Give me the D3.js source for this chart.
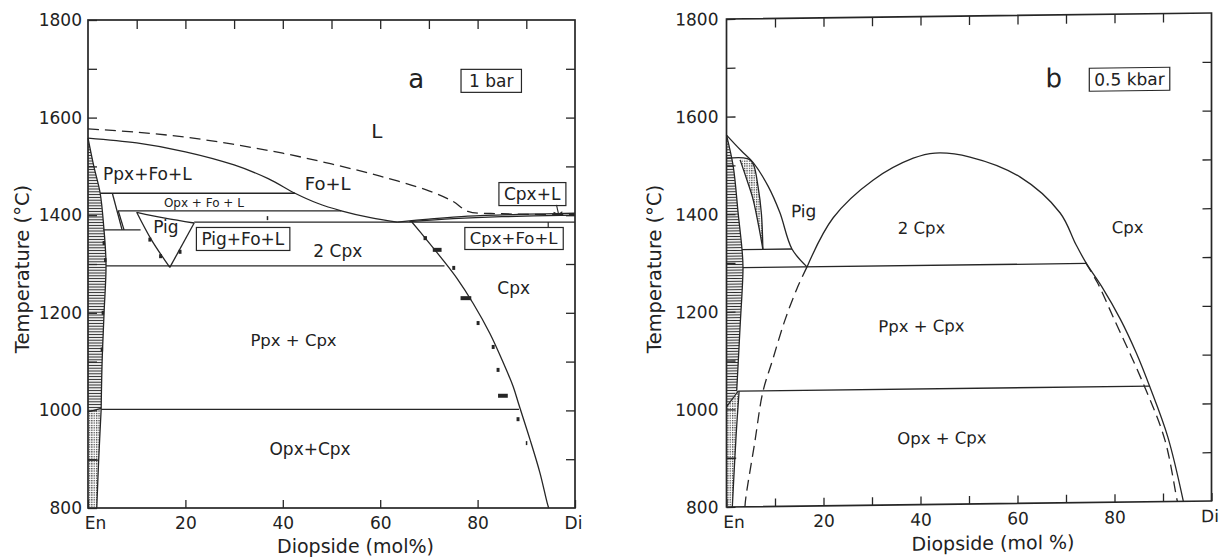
<!DOCTYPE html>
<html>
<head>
<meta charset="utf-8">
<script src="https://cdn.jsdelivr.net/npm/d3@7"></script>
<style>
  body { margin: 0; background: #fff; }
  svg { display: block; }
  text { font-family: "DejaVu Sans", sans-serif; fill: #222; }
</style>
</head>
<body>
<div id="chart"></div>
<script>
// ---- ticks ----
const xTop = d3.range(10, 100, 10);
const yLeft = d3.range(800, 1801, 100);
const yRight = d3.range(900, 1800, 100);
const xBottomA = [0, 20, 40, 60, 80, 100];
const xBottomB = d3.range(0, 101, 10);

// ---- panel a (1 bar), [mol% Di, T °C] ----
const liquidusA = [[0,1558],[10,1548],[20,1530],[30,1503],[37,1475],[42.5,1445],[47,1425],[52,1409],[58,1395],[63.5,1386]];
const cpxLiquidusA = [[63.5,1386],[70,1392],[78,1398],[90,1402],[100,1404]];
const cpxSolidusA = [[66,1387],[75,1393],[85,1397],[100,1400]];
const metastableA = [[0,1577],[10,1570],[20,1560],[30,1545],[40,1527],[50,1505],[60,1480],[70,1450],[75,1428],[78,1408],[85,1403],[100,1401]];
const solvusA = [[66.5,1386],[69.5,1350],[72.5,1313],[75.8,1270],[79.1,1219],[82.5,1158],[85.3,1097],[87.3,1049],[88.5,1011],[90.8,939],[92.8,872],[94.3,810],[94.6,800]];
const ppxA = [[0,1558],[1.2,1500],[2.5,1445],[3.2,1380],[3.7,1300],[3.3,1200],[2.9,1100],[2.7,1002]];
const opxA = [[2.7,1002],[2.2,900],[1.8,800]];
const pigLeftA = [[10,1406],[13,1350],[16.8,1293]];
const pigRightA = [[16.8,1293],[21.8,1384]];
const pigTopA = [[10,1406],[15.8,1394],[21.8,1384]];
const tieLinesA = [
  [[2.5,1445],[42.5,1445]],
  [[6.2,1409],[52,1409]],
  [[21.8,1386],[100,1386]],
  [[3.1,1370],[10.8,1370]],
  [[3.7,1296],[73.2,1296]],
  [[2.7,1002],[88.5,1002]],
  [[5.0,1445],[7.0,1370]],
  [[6.2,1409],[7.4,1370]],
  [[0,997],[2.7,1004]],
  [[0,898],[2.2,898]]
];
// experimental brackets [Di min, Di max, T]
const bracketsA = [[3.0,3.5,1343],[3.3,3.8,1308],[2.8,3.3,1200],[2.6,3.1,1125],
  [12.4,13.0,1350],[14.6,15.2,1316],[18.6,19.2,1325],[36.7,37.0,1394],
  [68.9,69.6,1353],[70.8,72.6,1329],[74.8,75.4,1292],[76.5,78.7,1230],[79.8,80.4,1179],
  [82.9,83.5,1130],[83.9,84.5,1083],[84.2,86.2,1030],[88.0,88.6,982],[89.9,90.2,933]];

// ---- panel b (0.5 kbar) ----
const ppxB = [[0,1562],[1.4,1497],[2.4,1402],[3.2,1327],[3.4,1290],[2.8,1169],[2.1,1037]];
const opxB = [[2.6,1037],[2.0,950],[1.2,800]];
const pigOuterB = [[0,1562],[3,1530],[5.5,1505],[8.6,1456],[11,1402],[13.5,1327],[16.6,1290]];
const pigDomeB = [[0.1,1515],[3.5,1515],[4.8,1511],[5.6,1500],[6.5,1456],[7.2,1400],[7.5,1327]];
const pigInnerB = [[2.8,1511],[4.2,1470],[5.5,1429],[6.9,1361],[7.5,1327]];
const cpxDomeB = [[16.6,1290],[22,1390],[30.2,1466],[38.5,1510],[43,1520],[50.2,1511],[60.5,1469],[68.8,1394],[72,1330],[74.2,1290],[77.5,1240],[81.2,1175],[84.5,1105],[87.3,1035],[91,932],[94.2,800]];
const dashedLeftB = [[16.6,1290],[14.5,1245],[12,1180],[9.5,1100],[7.5,1035],[5.8,930],[4,820],[3.8,800]];
const dashedRightB = [[74,1292],[76.5,1250],[79.7,1180],[85.9,1043],[90.4,926],[92.9,803],[93,800]];
const tieLinesB = [
  [[3.2,1327],[13.5,1327]],
  [[3.4,1290],[74.2,1290]],
  [[2.4,1037],[87.3,1037]],
  [[0,1005],[2.4,1037]],
  [[0,900],[2.0,900]]
];

const W = 1221, H = 558, ink = "#262626";
const svg = d3.select("#chart").append("svg").attr("width", W).attr("height", H);

const defs = svg.append("defs");
const hatch = defs.append("pattern").attr("id", "hatch")
  .attr("patternUnits", "userSpaceOnUse").attr("width", 6).attr("height", 2.8);
hatch.append("line").attr("x1", 0).attr("x2", 6).attr("y1", 1.4).attr("y2", 1.4)
  .attr("stroke", "#2a2a2a").attr("stroke-width", 1.1);
const dots = defs.append("pattern").attr("id", "dots")
  .attr("patternUnits", "userSpaceOnUse").attr("width", 2.4).attr("height", 2.4);
dots.append("rect").attr("width", 1.3).attr("height", 1.3).attr("fill", "#444");

const fmtX = d => d === 0 ? "En" : d === 100 ? "Di" : d;

function drawPanel(g, x, y, o) {
  const smooth = d3.line().x(d => x(d[0])).y(d => y(d[1])).curve(d3.curveCatmullRom.alpha(0.5));
  const straight = d3.line().x(d => x(d[0])).y(d => y(d[1]));

  // axes (inward ticks)
  g.append("g").attr("transform", `translate(${x(0)},0)`)
    .call(d3.axisLeft(y).tickValues(yLeft).tickSize(-9).tickPadding(o.yPad)
      .tickFormat(d => d % 200 === 0 ? d : ""))
    .call(a => a.select(".domain").remove())
    .call(a => a.selectAll("text").style("font-size", "17px").attr("fill", ink));
  g.append("g").attr("transform", `translate(${x(100)},0)`)
    .call(d3.axisRight(y).tickValues(yRight).tickSize(-9).tickFormat(""))
    .call(a => a.select(".domain").remove());
  g.append("g").attr("transform", `translate(0,${y(1800)})`)
    .call(d3.axisTop(x).tickValues(xTop).tickSize(-9).tickFormat(""))
    .call(a => a.select(".domain").remove());
  g.append("g").attr("transform", `translate(0,${y(800)})`)
    .call(d3.axisBottom(x).tickValues(o.bottom).tickSize(-8).tickPadding(9)
      .tickFormat(d => d % 20 === 0 ? fmtX(d) : ""))
    .call(a => a.select(".domain").remove())
    .call(a => a.selectAll("text").style("font-size", "17px").attr("fill", ink)
      .attr("dx", d => d === 0 ? 7 : d === 100 ? -2 : 0));
  g.selectAll(".tick line").attr("stroke", ink).attr("stroke-width", 1.3);

  g.append("rect").attr("x", x(0)).attr("y", y(1800))
    .attr("width", x(100) - x(0)).attr("height", y(800) - y(1800))
    .attr("fill", "none").attr("stroke", ink).attr("stroke-width", 1.7);

  // shaded fields
  o.fills.forEach(f => g.append("path").attr("d", straight(f.pts) + "Z")
    .attr("fill", `url(#${f.pat})`).attr("stroke", "none"));

  // boundaries
  o.curves.forEach(c => g.append("path").attr("d", smooth(c)).attr("fill", "none")
    .attr("stroke", ink).attr("stroke-width", 1.3));
  o.ties.forEach(c => g.append("path").attr("d", straight(c)).attr("fill", "none")
    .attr("stroke", ink).attr("stroke-width", 1.3));
  o.dashed.forEach(c => g.append("path").attr("d", smooth(c)).attr("fill", "none")
    .attr("stroke", ink).attr("stroke-width", 1.3).attr("stroke-dasharray", "11,6"));

  // field labels
  o.labels.forEach(l => {
    const t = g.append("text").attr("x", x(l.at[0])).attr("y", y(l.at[1]))
      .attr("text-anchor", "middle").style("font-size", l.size + "px").text(l.text);
    if (l.box) {
      const b = t.node().getBBox(), p = l.pad || 5;
      g.insert("rect", () => t.node()).attr("x", b.x - p).attr("y", b.y - 1.5)
        .attr("width", b.width + 2 * p).attr("height", b.height + 3)
        .attr("fill", "#fff").attr("stroke", ink).attr("stroke-width", 1.2);
    }
  });

  g.append("text").attr("transform", `translate(${o.titleX},${(y(800) + y(1800)) / 2 + 5}) rotate(-90)`)
    .attr("text-anchor", "middle").style("font-size", "19.5px").text("Temperature (°C)");
  g.append("text").attr("x", (x(0) + x(100)) / 2 + 24).attr("y", 553)
    .attr("text-anchor", "middle").style("font-size", "19px").text(o.xTitle);
}

// ---- panel a ----
const xA = d3.scaleLinear().domain([0, 100]).range([88, 575]);
const yA = d3.scaleLinear().domain([800, 1800]).range([508, 20]);
const gA = svg.append("g");
drawPanel(gA, xA, yA, {
  yPad: 6, bottom: xBottomA, titleX: 29, xTitle: "Diopside (mol%)",
  fills: [
    { pat: "hatch", pts: ppxA.concat([[0,1002]]) },
    { pat: "dots", pts: [[0,1002]].concat(opxA, [[0,800]]) }
  ],
  curves: [liquidusA, cpxLiquidusA, cpxSolidusA, solvusA, ppxA, opxA, pigLeftA, pigTopA],
  ties: tieLinesA.concat([pigRightA]),
  dashed: [metastableA],
  labels: [
    { text: "a", at: [67.4, 1661], size: 26 },
    { text: "1 bar", at: [82.8, 1663], size: 17, box: true, pad: 8 },
    { text: "L", at: [59.3, 1558], size: 20 },
    { text: "Ppx+Fo+L", at: [12.2, 1472], size: 17 },
    { text: "Fo+L", at: [49.2, 1452], size: 18 },
    { text: "Opx + Fo + L", at: [23.8, 1417], size: 12 },
    { text: "Pig", at: [16, 1364], size: 17 },
    { text: "Pig+Fo+L", at: [31.8, 1339], size: 17, box: true },
    { text: "2 Cpx", at: [51.3, 1314], size: 17 },
    { text: "Cpx+L", at: [91.2, 1431], size: 17, box: true },
    { text: "Cpx+Fo+L", at: [87.4, 1341], size: 16.5, box: true },
    { text: "Cpx", at: [87.4, 1239], size: 17 },
    { text: "Ppx + Cpx", at: [42.2, 1132], size: 16.5 },
    { text: "Opx+Cpx", at: [45.6, 909], size: 17 }
  ]
});
// data brackets
gA.append("g").selectAll("rect").data(bracketsA).join("rect")
  .attr("x", d => xA(d[0])).attr("y", d => yA(d[2]) - 2)
  .attr("width", d => Math.max(1.5, xA(d[1]) - xA(d[0]))).attr("height", 4)
  .attr("fill", ink);
// leaders
gA.append("path").attr("d", d3.line()([[xA(96.2), yA(1421)], [xA(96.6), yA(1403)]]))
  .attr("stroke", ink).attr("stroke-width", 1.1);
gA.append("path").attr("d", d3.line()([[xA(95.6), yA(1406)], [xA(96.6), yA(1401)], [xA(97.4), yA(1407)]]))
  .attr("stroke", ink).attr("fill", "none").attr("stroke-width", 1.1);
gA.append("path").attr("d", d3.line()([[xA(94.5), yA(1386)], [xA(94.5), yA(1376)]]))
  .attr("stroke", ink).attr("stroke-width", 1.2);

// ---- panel b (scan is slightly sheared) ----
const xB = d3.scaleLinear().domain([0, 100]).range([726.5, 1211.5]);
const yB = d3.scaleLinear().domain([800, 1800]).range([507, 19]);
const gB = svg.append("g").attr("transform", "translate(726.5,0) skewY(-0.71) translate(-726.5,0)");
drawPanel(gB, xB, yB, {
  yPad: 8, bottom: xBottomB, titleX: 661, xTitle: "Diopside (mol %)",
  fills: [
    { pat: "hatch", pts: ppxB.concat([[0,1005]]) },
    { pat: "dots", pts: [[0,1005],[2.4,1037]].concat(opxB, [[0,800]]) },
    { pat: "dots", pts: pigInnerB.concat(pigDomeB.slice(1).reverse().slice(0, 5)) }
  ],
  curves: [ppxB, opxB, pigOuterB, pigDomeB, pigInnerB, cpxDomeB],
  ties: tieLinesB,
  dashed: [dashedLeftB, dashedRightB],
  labels: [
    { text: "b", at: [67.5, 1652], size: 26 },
    { text: "0.5 kbar", at: [83.1, 1654], size: 17, box: true },
    { text: "Pig", at: [15.9, 1392], size: 17 },
    { text: "2 Cpx", at: [40.2, 1355], size: 16.5 },
    { text: "Cpx", at: [82.7, 1351], size: 16.5 },
    { text: "Ppx + Cpx", at: [40.2, 1154], size: 16.5 },
    { text: "Opx + Cpx", at: [44.4, 924], size: 16.5 }
  ]
});
</script>
</body>
</html>
